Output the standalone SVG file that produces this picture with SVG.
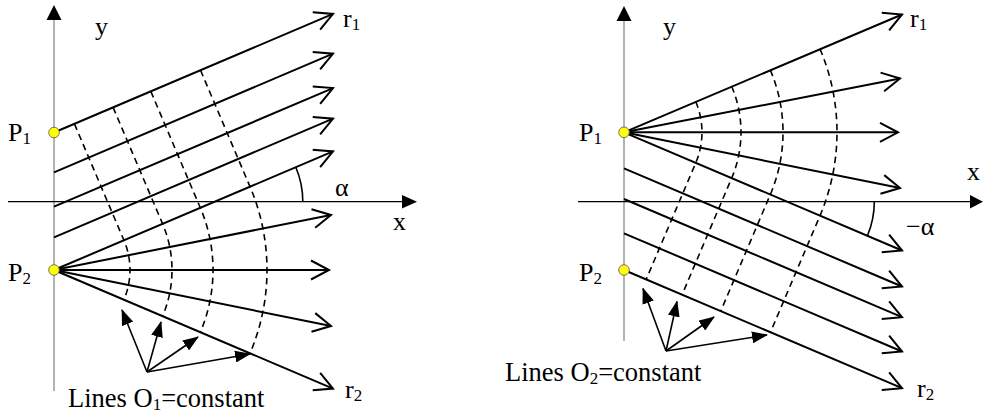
<svg xmlns="http://www.w3.org/2000/svg" width="983" height="416" viewBox="0 0 983 416">
<style>
  .axisY{stroke:#9a9a9a;stroke-width:1.5;fill:none}
  .axisX{stroke:#000;stroke-width:1.3;fill:none}
  .ray{stroke:#000;stroke-width:2;fill:none;marker-end:url(#oa)}
  .dash{stroke:#000;stroke-width:1.6;fill:none;stroke-dasharray:6.5,4.5}
  .vec{stroke:#000;stroke-width:1.6;fill:none;marker-end:url(#fa)}
  .ang{stroke:#000;stroke-width:1.6;fill:none}
  .pt{fill:#ffff00;stroke:#666;stroke-width:0.9}
  .head{fill:#000}
  text{font-family:"Liberation Serif","Times New Roman",serif;font-size:26px;fill:#000}
  .lbl{font-size:26.5px}
  .sub{font-size:17px}
</style>
<defs>
  <marker id="oa" markerUnits="userSpaceOnUse" viewBox="-22 -12 26 24" markerWidth="26" markerHeight="24" refX="0" refY="0" orient="auto" overflow="visible">
    <path d="M-18,-9.5 L0,0 L-18,9.5" fill="none" stroke="#000" stroke-width="2"/>
  </marker>
  <marker id="fa" markerUnits="userSpaceOnUse" viewBox="0 0 16 12" markerWidth="16" markerHeight="12" refX="15" refY="6" orient="auto">
    <path d="M0,0 L16,6 L0,12 z" fill="#000"/>
  </marker>
</defs>

<!-- LEFT PANEL -->
<g id="left-axes">
  <line class="axisY" x1="54" y1="18" x2="54" y2="391"/>
  <polygon class="head" points="54,5 46.5,20 61.5,20"/>
  <line class="axisX" x1="8" y1="201.7" x2="403" y2="201.7"/>
  <polygon class="head" points="417,201.7 402,195 402,208.4"/>
</g>
<g id="left-connectors">
  <g id="left-parallel-rays">
    <line class="ray" x1="54" y1="132.5" x2="333" y2="13.9"/>
    <line class="ray" x1="54" y1="172.3" x2="333" y2="53.7"/>
    <line class="ray" x1="54" y1="206.7" x2="333" y2="88.1"/>
    <line class="ray" x1="54" y1="237.3" x2="333" y2="118.7"/>
  </g>
  <g id="left-fan-rays">
    <line class="ray" x1="54" y1="270" x2="333" y2="151.4"/>
    <line class="ray" x1="54" y1="270" x2="331" y2="215"/>
    <line class="ray" x1="54" y1="270" x2="329" y2="270"/>
    <line class="ray" x1="54" y1="270" x2="331" y2="326"/>
    <line class="ray" x1="54" y1="270" x2="333" y2="388.6"/>
  </g>
  <g id="left-dashed">
    <path class="dash" d="M74.45,123.85 L123.94,240.27 A76,76 0 0 1 123.94,299.73"/>
    <path class="dash" d="M113.11,107.42 L162.60,223.84 A118,118 0 0 1 162.60,316.16"/>
    <path class="dash" d="M150.84,91.38 L200.33,207.80 A159,159 0 0 1 200.33,332.20"/>
    <path class="dash" d="M200.53,70.25 L250.02,186.67 A213,213 0 0 1 250.02,353.33"/>
  </g>
  <path class="ang" d="M302.8,201.7 A88,88 0 0 0 295.8,167.3"/>
  <g id="left-normals">
    <line class="vec" x1="147" y1="372" x2="122" y2="310"/>
    <line class="vec" x1="147" y1="372" x2="161" y2="322"/>
    <line class="vec" x1="147" y1="372" x2="198" y2="337"/>
    <line class="vec" x1="147" y1="372" x2="250" y2="354"/>
  </g>
</g>
<g id="left-P1"><circle class="pt" cx="54" cy="132.5" r="5.3"/><text x="8" y="141">P<tspan class="sub" dy="3">1</tspan></text></g>
<g id="left-P2"><circle class="pt" cx="54" cy="270" r="5.3"/><text x="8" y="281">P<tspan class="sub" dy="3">2</tspan></text></g>
<g id="left-labels">
  <text x="95" y="35">y</text>
  <text x="393" y="230">x</text>
  <text x="335" y="196">α</text>
  <text x="343" y="27">r<tspan class="sub" dy="3">1</tspan></text>
  <text x="345" y="398">r<tspan class="sub" dy="3">2</tspan></text>
  <text class="lbl" x="68" y="407">Lines O<tspan class="sub" dy="3">1</tspan><tspan dy="-3">=constant</tspan></text>
</g>

<!-- RIGHT PANEL -->
<g id="right-axes">
  <line class="axisY" x1="624" y1="19" x2="624" y2="341"/>
  <polygon class="head" points="624,6 616.5,21 631.5,21"/>
  <line class="axisX" x1="578" y1="201.7" x2="971" y2="201.7"/>
  <polygon class="head" points="983,201.7 970,195 970,208.4"/>
</g>
<g id="right-connectors">
  <g id="right-fan-rays">
    <line class="ray" x1="624" y1="132.3" x2="902" y2="14.5"/>
    <line class="ray" x1="624" y1="132.3" x2="900" y2="78.5"/>
    <line class="ray" x1="624" y1="132.3" x2="898" y2="132.3"/>
    <line class="ray" x1="624" y1="132.3" x2="900" y2="188"/>
    <line class="ray" x1="624" y1="132.3" x2="902" y2="250.5"/>
  </g>
  <g id="right-parallel-rays">
    <line class="ray" x1="624" y1="168.3" x2="902" y2="286.5"/>
    <line class="ray" x1="624" y1="199" x2="902" y2="317.2"/>
    <line class="ray" x1="624" y1="233.3" x2="902" y2="351.5"/>
    <line class="ray" x1="624" y1="270" x2="902" y2="388.2"/>
  </g>
  <g id="right-dashed">
    <path class="dash" d="M695.78,101.79 A78,78 0 0 1 695.78,162.81 L646.21,279.41"/>
    <path class="dash" d="M731.68,86.53 A117,117 0 0 1 731.68,178.07 L682.11,294.67"/>
    <path class="dash" d="M770.33,70.10 A159,159 0 0 1 770.33,194.50 L720.76,311.10"/>
    <path class="dash" d="M820.02,48.97 A213,213 0 0 1 820.02,215.63 L770.45,332.23"/>
  </g>
  <path class="ang" d="M874.3,201.7 A87,87 0 0 1 867.4,235.7"/>
  <g id="right-normals">
    <line class="vec" x1="666" y1="351" x2="643" y2="288.5"/>
    <line class="vec" x1="666" y1="351" x2="677" y2="301.5"/>
    <line class="vec" x1="666" y1="351" x2="714" y2="317"/>
    <line class="vec" x1="666" y1="351" x2="767" y2="335"/>
  </g>
</g>
<g id="right-P1"><circle class="pt" cx="624" cy="132.3" r="5.3"/><text x="579" y="141">P<tspan class="sub" dy="3">1</tspan></text></g>
<g id="right-P2"><circle class="pt" cx="624" cy="270" r="5.3"/><text x="579" y="281">P<tspan class="sub" dy="3">2</tspan></text></g>
<g id="right-labels">
  <text x="663" y="35">y</text>
  <text x="967" y="180">x</text>
  <text x="906" y="235">−α</text>
  <text x="910" y="27">r<tspan class="sub" dy="3">1</tspan></text>
  <text x="917" y="397">r<tspan class="sub" dy="3">2</tspan></text>
  <text class="lbl" x="505" y="381">Lines O<tspan class="sub" dy="3">2</tspan><tspan dy="-3">=constant</tspan></text>
</g>
</svg>
